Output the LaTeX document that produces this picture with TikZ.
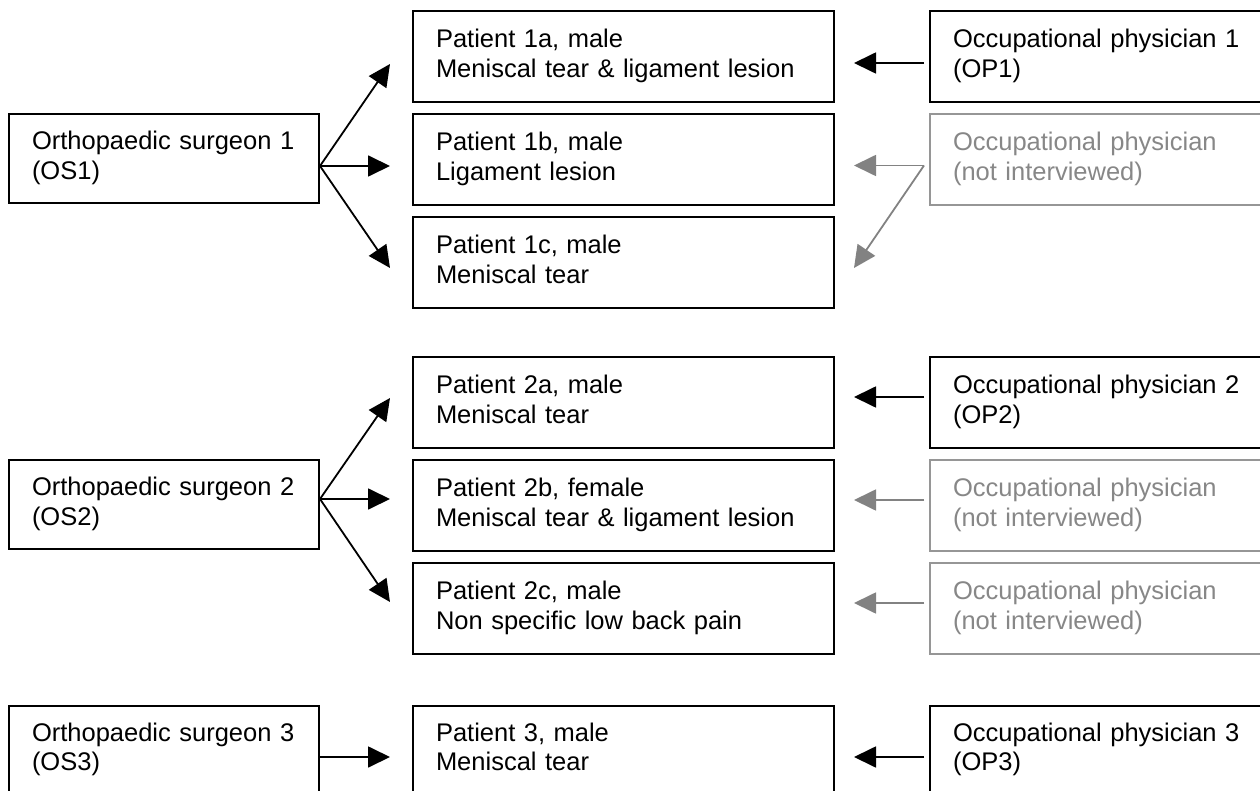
\documentclass[tikz,border=0pt]{standalone}
\usepackage{fontspec}
\setmainfont{Liberation Sans}
\usetikzlibrary{arrows.meta,calc}
\definecolor{greyline}{RGB}{150,150,150}
\definecolor{greytext}{RGB}{135,135,135}
\definecolor{greyarrow}{RGB}{130,130,130}
\newcommand{\boxfont}{\fontsize{25.5}{29.5}\selectfont}
\tikzset{
  box/.style={draw, line width=2pt, inner sep=0pt, anchor=north west, align=left, font=\boxfont},
  lbox/.style={box, minimum width=310pt, text width=264pt, minimum height=89pt},
  mbox/.style={box, minimum width=421pt, text width=375pt, minimum height=91pt},
  rbox/.style={box, minimum width=346pt, text width=300pt, minimum height=91pt},
  greybox/.style={draw=greyline, text=greytext},
  arr/.style={-{Triangle[length=22pt,width=21pt]}, line width=1.8pt},
  garr/.style={arr, draw=greyarrow, fill=greyarrow},
}
\begin{document}
\begin{tikzpicture}[x=1pt,y=-1pt]
\useasboundingbox (0,0) rectangle (1260,791);
\clip (0,0) rectangle (1260,791);
% left column
\node[lbox] (os1) at (8,113) {\strut Orthopaedic surgeon 1\\\strut (OS1)};
\node[lbox] (os2) at (8,459) {\strut Orthopaedic surgeon 2\\\strut (OS2)};
\node[lbox, minimum height=88pt] (os3) at (8,705) {\strut Orthopaedic surgeon 3\\\strut (OS3)};
% middle column
\node[mbox] (p1a) at (412,10) {\strut Patient 1a, male\\\strut Meniscal tear \& ligament lesion};
\node[mbox] (p1b) at (412,113) {\strut Patient 1b, male\\\strut Ligament lesion};
\node[mbox] (p1c) at (412,216) {\strut Patient 1c, male\\\strut Meniscal tear};
\node[mbox] (p2a) at (412,356) {\strut Patient 2a, male\\\strut Meniscal tear};
\node[mbox] (p2b) at (412,459) {\strut Patient 2b, female\\\strut Meniscal tear \& ligament lesion};
\node[mbox] (p2c) at (412,562) {\strut Patient 2c, male\\\strut Non specific low back pain};
\node[mbox, minimum height=88pt] (p3) at (412,705) {\strut Patient 3, male\\\strut Meniscal tear};
% right column
\node[rbox] (op1) at (929,10) {\strut Occupational physician 1\\\strut (OP1)};
\node[rbox, greybox] (g1) at (929,113) {\strut Occupational physician\\\strut (not interviewed)};
\node[rbox] (op2) at (929,356) {\strut Occupational physician 2\\\strut (OP2)};
\node[rbox, greybox] (g2) at (929,459) {\strut Occupational physician\\\strut (not interviewed)};
\node[rbox, greybox] (g3) at (929,562) {\strut Occupational physician\\\strut (not interviewed)};
\node[rbox, minimum height=88pt] (op3) at (929,705) {\strut Occupational physician 3\\\strut (OP3)};
% row 1 connectors
\draw[arr] ($(os1.east)+(0,7.5)$) -- ($(p1a.west)+(-22,7.5)$);
\draw[arr] ($(os1.east)+(0,7.5)$) -- ($(p1b.west)+(-22,6.5)$);
\draw[arr] ($(os1.east)+(0,7.5)$) -- ($(p1c.west)+(-22,5.5)$);
\draw[arr] ($(op1.west)+(-5,6.5)$) -- ($(p1a.east)+(19,6.5)$);
\draw[garr] ($(g1.west)+(-5,6)$) -- ($(p1b.east)+(19,6)$);
\draw[garr] ($(g1.west)+(-5,6)$) -- ($(p1c.east)+(19,5.5)$);
% row 2 connectors
\draw[arr] ($(os2.east)+(0,-5.5)$) -- ($(p2a.west)+(-22,-4.5)$);
\draw[arr] ($(os2.east)+(0,-5.5)$) -- ($(p2b.west)+(-22,-6.5)$);
\draw[arr] ($(os2.east)+(0,-5.5)$) -- ($(p2c.west)+(-22,-6.5)$);
\draw[arr] ($(op2.west)+(-5,-5.5)$) -- ($(p2a.east)+(19,-5.5)$);
\draw[garr] ($(g2.west)+(-5,-5.5)$) -- ($(p2b.east)+(19,-5.5)$);
\draw[garr] ($(g3.west)+(-5,-5.5)$) -- ($(p2c.east)+(19,-5.5)$);
% row 3 connectors
\draw[arr] ($(os3.east)+(0,7)$) -- ($(p3.west)+(-22,7)$);
\draw[arr] ($(op3.west)+(-5,7)$) -- ($(p3.east)+(19,7)$);
\end{tikzpicture}
\end{document}
